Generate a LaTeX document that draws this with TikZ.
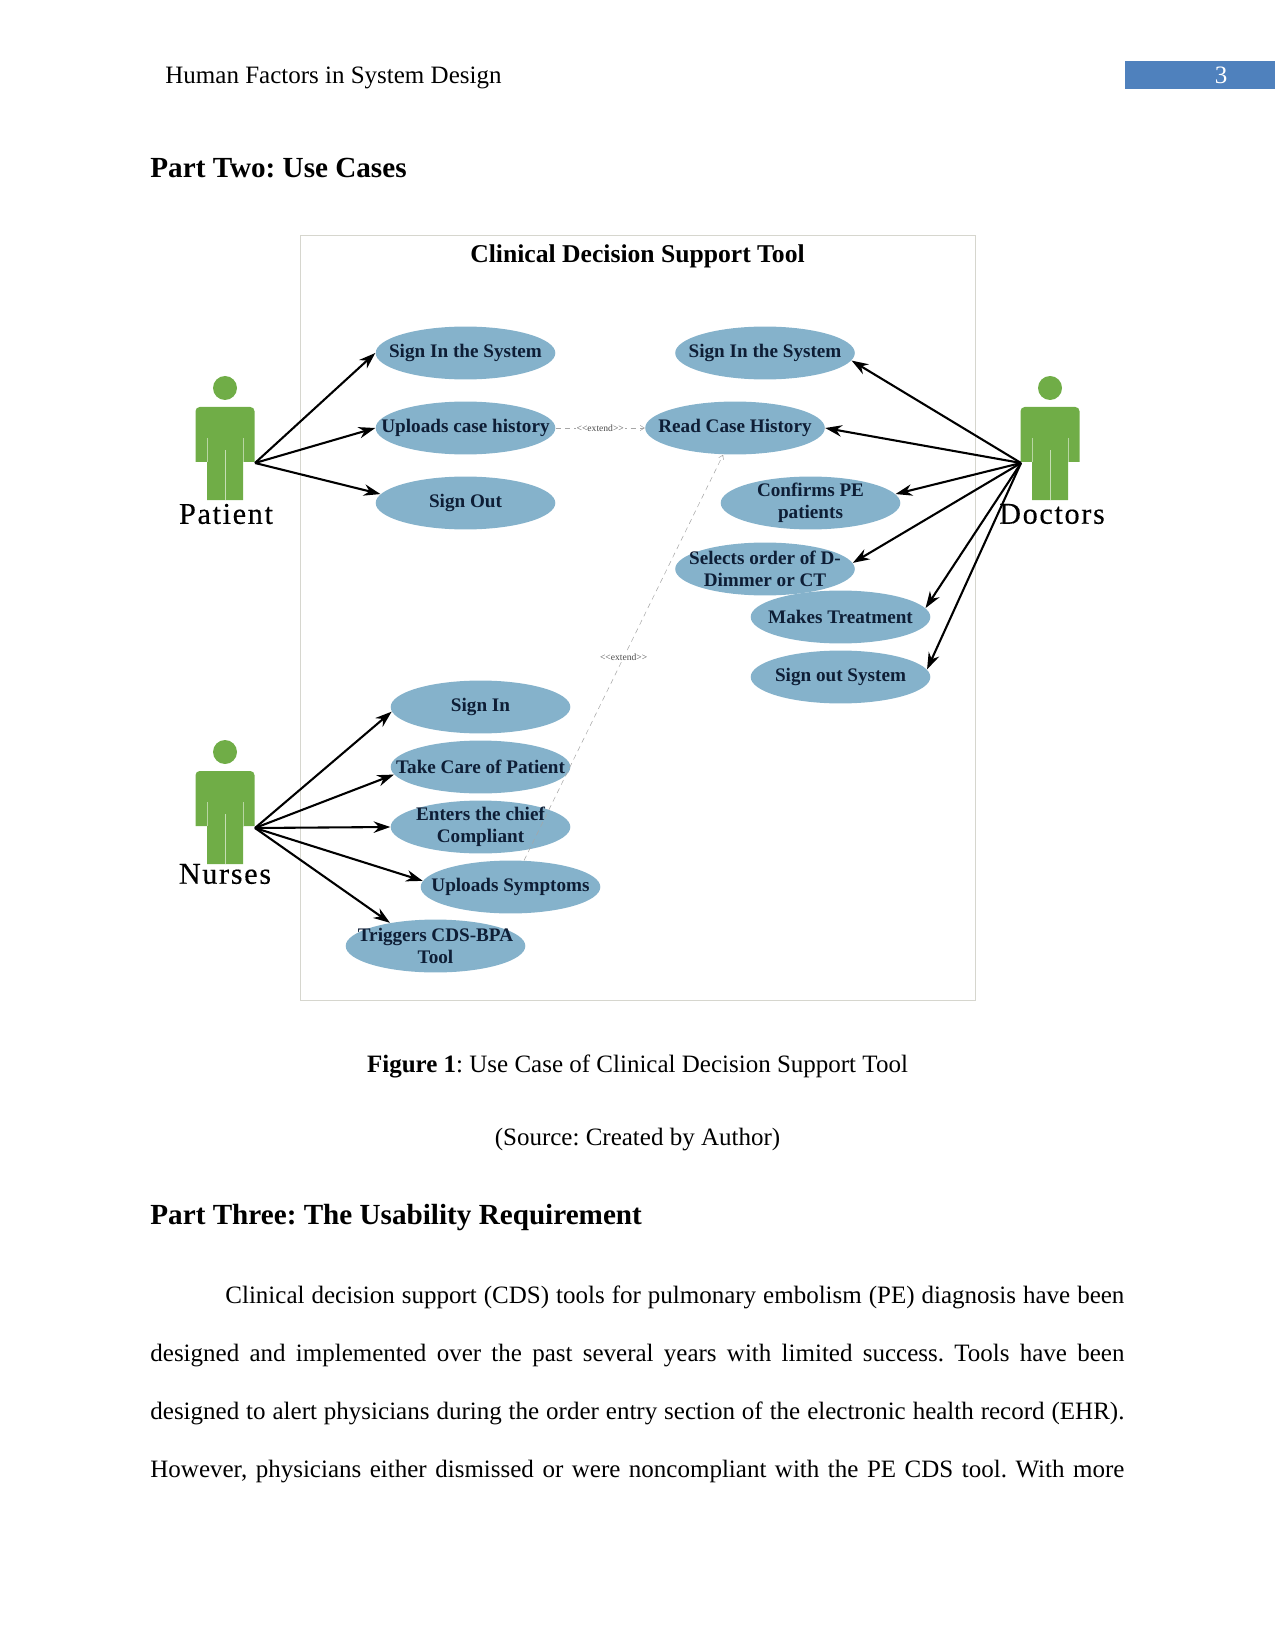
\documentclass[tikz,border=0pt]{standalone}
\usepackage{fontspec}
\setmainfont{Liberation Serif}
\newfontfamily\actorfont[LetterSpace=5.5,FakeBold=0.35]{Liberation Serif}
\usetikzlibrary{arrows.meta,shapes.geometric}

\definecolor{usecasefill}{RGB}{133,178,203}
\definecolor{usecasetext}{RGB}{14,30,54}
\definecolor{actorgreen}{RGB}{112,173,71}
\definecolor{framegray}{RGB}{214,214,206}
\definecolor{pageblue}{RGB}{79,129,189}

\tikzset{
  usecase/.style={ellipse, fill=usecasefill, text=usecasetext, minimum width=86.2pt,
    minimum height=25.4pt, inner xsep=-12pt, inner ysep=-4pt, align=center,
    font=\fontsize{9.2}{10.5}\selectfont\bfseries},
  assoc/.style={-{Stealth[length=8pt,width=5.5pt]}, line width=1pt, black},
  extendline/.style={dash pattern=on 2.5pt off 2pt, line width=0.25pt, gray!70,
    -{Straight Barb[length=2pt,width=2.5pt]}},
  extendlabel/.style={fill=white, inner sep=0.5pt, text=black!70, font=\fontsize{4.6}{5}\selectfont},
  actorlabel/.style={font=\fontsize{14.5}{16}\selectfont\actorfont, inner sep=0pt},
  bodyline/.style={anchor=base west, inner sep=0pt, font=\fontsize{12}{14}\selectfont},
  headline/.style={anchor=base west, inner sep=0pt, font=\fontsize{14}{16}\selectfont\bfseries},
  centerline/.style={anchor=base, inner sep=0pt, font=\fontsize{12}{14}\selectfont}
}

\begin{document}
\frenchspacing
\begin{tikzpicture}[x=0.48pt, y=-0.48pt]
  \useasboundingbox (0,0) rectangle (1275,1650);

  % -- Page header --
  \node[bodyline] (runhead) at (165,83.5) {Human Factors in System Design};
  \fill[pageblue] (1125,61) rectangle (1275,89);
  \node[centerline, text=white] (pagenum) at (1221,83.5) {3};
  \node[headline] (parttwo) at (150,178) {Part Two: Use Cases};

  % -- System frame --
  \draw[framegray, line width=0.4pt] (300.5,235) rectangle (975,1000);
  \node[inner sep=0pt, font=\fontsize{12.3}{14}\selectfont\bfseries] (title) at (637.5,256) {Clinical Decision Support Tool};

  % -- Actors --
  \foreach \hx/\hy in {225/388, 1050/388, 225/752} {
    \fill[actorgreen] (\hx,\hy) circle (12);
    \fill[actorgreen] (\hx-29.5,\hy+74) [rounded corners=2pt] -- (\hx-29.5,\hy+19) -- (\hx+29.5,\hy+19) [sharp corners] -- (\hx+29.5,\hy+74) -- (\hx+18,\hy+74) -- (\hx+18,\hy+112) -- (\hx-18,\hy+112) -- (\hx-18,\hy+74) -- cycle;
    \draw[white!50!actorgreen, line width=0.3pt] (\hx-18,\hy+50) -- (\hx-18,\hy+74);
    \draw[white!50!actorgreen, line width=0.3pt] (\hx+18,\hy+50) -- (\hx+18,\hy+74);
    \draw[white!60!actorgreen, line width=0.3pt] (\hx,\hy+62) -- (\hx,\hy+112);
  }
  \node[actorlabel] (patient) at (226,514) {Patient};
  \node[actorlabel] (doctors) at (1052,514) {Doctors};
  \node[actorlabel] (nurses) at (225,874) {Nurses};
  \coordinate (patienthub) at (255,463);
  \coordinate (doctorhub) at (1021,463);
  \coordinate (nursehub) at (255,828);

  % -- Patient use cases --
  \node[usecase] (patsignin) at (465.5,353) {Sign In the System};
  \node[usecase] (patupload) at (465.5,428) {Uploads case history};
  \node[usecase] (patsignout) at (465.5,503) {Sign Out};

  % -- Doctor use cases --
  \node[usecase] (docsignin) at (765,353) {Sign In the System};
  \node[usecase] (docread) at (735,428) {Read Case History};
  \node[usecase] (docconfirm) at (810.5,503) {Confirms PE\\patients};
  \node[usecase] (docselect) at (765,569) {Selects order of D-\\Dimmer or CT};
  \node[usecase] (doctreat) at (840.5,617) {Makes Treatment};
  \node[usecase] (docsignout) at (840.5,677) {Sign out System};

  % -- Nurse use cases --
  \node[usecase] (nursignin) at (480.5,707) {Sign In};
  \node[usecase] (nurcare) at (480.5,767) {Take Care of Patient};
  \node[usecase] (nurchief) at (480.5,827) {Enters the chief\\Compliant};
  \node[usecase] (nursymptom) at (510.5,887) {Uploads Symptoms};
  \node[usecase] (nurtrigger) at (435.5,946) {Triggers CDS-BPA\\Tool};

  % -- Extend relations --
  \draw[extendline] (patupload.east) -- node[extendlabel] (extendtop) {<{}<extend>{}>} (docread.west);
  \draw[extendline] (nursymptom.63) -- node[extendlabel] (extendmid) {<{}<extend>{}>} (docread.246);

  % -- Associations --
  \draw[assoc] (patienthub) -- (patsignin.west);
  \draw[assoc] (patienthub) -- (patupload.west);
  \draw[assoc] (patienthub) -- (patsignout.174);

  \draw[assoc] (doctorhub) -- (docsignin.355);
  \draw[assoc] (doctorhub) -- (docread.east);
  \draw[assoc] (doctorhub) -- (docconfirm.6);
  \draw[assoc] (doctorhub) -- (docselect.4);
  \draw[assoc] (doctorhub) -- (doctreat.6);
  \draw[assoc] (doctorhub) -- (docsignout.5);

  \draw[assoc] (nursehub) -- (nursignin.183);
  \draw[assoc] (nursehub) -- (nurcare.185);
  \draw[assoc] (nursehub) -- (nurchief.west);
  \draw[assoc] (nursehub) -- (nursymptom.176);
  \draw[assoc] (nursehub) -- (nurtrigger.153);

  % -- Caption --
  \node[centerline] (caption) at (637.5,1072) {\textbf{Figure 1}: Use Case of Clinical Decision Support Tool};
  \node[centerline] (source) at (637.5,1145.5) {(Source: Created by Author)};

  % -- Following section --
  \node[headline] (partthree) at (150,1224) {Part Three: The Usability Requirement};
  \node[bodyline] (bodya) at (225,1303.5) {\makebox[431.5pt][s]{Clinical decision support (CDS) tools for pulmonary embolism (PE) diagnosis have been}};
  \node[bodyline] (bodyb) at (150,1361.5) {\makebox[467.5pt][s]{designed and implemented over the past several years with limited success. Tools have been}};
  \node[bodyline] (bodyc) at (150,1419.5) {\makebox[467.5pt][s]{designed to alert physicians during the order entry section of the electronic health record (EHR).}};
  \node[bodyline] (bodyd) at (150,1477.5) {\makebox[467.5pt][s]{However, physicians either dismissed or were noncompliant with the PE CDS tool. With more}};

\end{tikzpicture}
\end{document}
